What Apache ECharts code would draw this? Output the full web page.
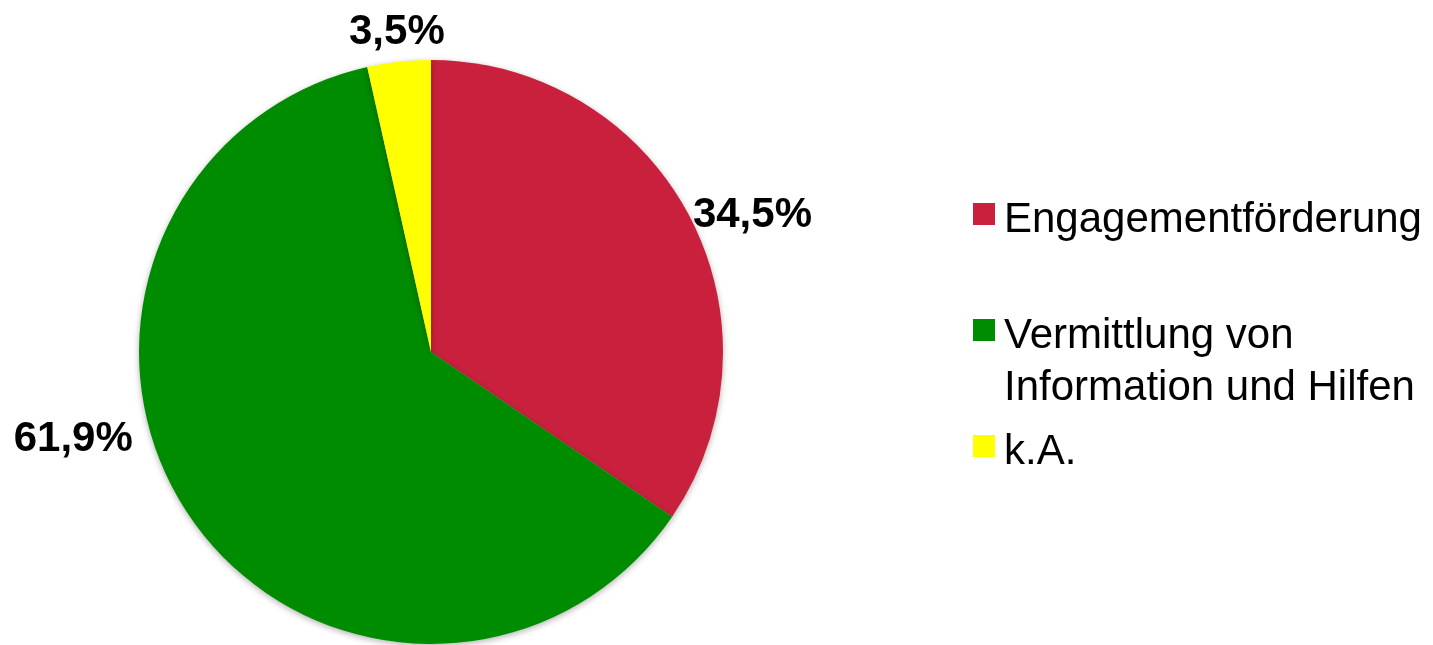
<!DOCTYPE html>
<html>
<head>
<meta charset="utf-8">
<script src="https://cdn.jsdelivr.net/npm/echarts@6/dist/echarts.min.js"></script>
<style>
html,body{margin:0;padding:0;background:#fff;}
#chart{width:1433px;height:645px;}
</style>
</head>
<body>
<div id="chart"></div>
<script>
// Data
var categories = ['Engagementförderung', 'Vermittlung von\nInformation und Hilfen', 'k.A.'];
var values = [34.5, 61.9, 3.5];
var valueLabels = ['34,5%', '61,9%', '3,5%'];
var colors = ['#C9213D', '#008C00', '#FFFF00'];

var FONT = '"Liberation Sans", Arial, Helvetica, sans-serif';

var chart = echarts.init(document.getElementById('chart'), null, {renderer: 'canvas'});

var pieData = categories.map(function (c, i) {
  return { name: c, value: values[i], itemStyle: { color: colors[i] } };
});

// label nudges (relative to ECharts' default outside placement)
var labelNudge = [[-14, 9], [-40, -88], [48, -9]];

chart.setOption({
  animation: false,
  backgroundColor: '#ffffff',
  legend: {
    orient: 'vertical',
    left: 973,
    top: 182,
    padding: 0,
    itemGap: 0,
    itemWidth: 22,
    itemHeight: 22,
    icon: 'rect',
    selectedMode: false,
    data: categories,
    formatter: function (name) {
      var lines = name.split('\n');
      var spacer = lines.length > 1 ? '{b| }' : '{a| }';
      return spacer + '\n' + lines.map(function (l) { return '{t|' + l + '}'; }).join('\n');
    },
    textStyle: {
      fontFamily: FONT,
      fontSize: 42,
      lineHeight: 52,
      color: '#000000',
      rich: {
        a: { fontSize: 8, lineHeight: 12, height: 12 },
        b: { fontSize: 8, lineHeight: 64, height: 64 },
        t: { fontFamily: FONT, fontSize: 42, lineHeight: 52, color: '#000000', padding: [0, 0, 0, 4] }
      }
    }
  },
  series: [{
    type: 'pie',
    center: [431, 352],
    radius: 292,
    startAngle: 90,
    clockwise: true,
    avoidLabelOverlap: false,
    data: pieData,
    itemStyle: {
      borderWidth: 0,
      shadowBlur: 6,
      shadowOffsetX: 0,
      shadowOffsetY: 2,
      shadowColor: 'rgba(0,0,0,0.3)'
    },
    emphasis: { disabled: true },
    label: {
      show: true,
      position: 'outside',
      distanceToLabelLine: 0,
      formatter: function (p) { return valueLabels[p.dataIndex]; },
      fontFamily: FONT,
      fontSize: 42,
      fontWeight: 'bold',
      color: '#000000'
    },
    labelLine: { show: false, length: 20, length2: 0 },
    labelLayout: function (p) {
      var n = labelNudge[p.dataIndex];
      return { dx: n[0], dy: n[1] };
    }
  }]
});
</script>
</body>
</html>
